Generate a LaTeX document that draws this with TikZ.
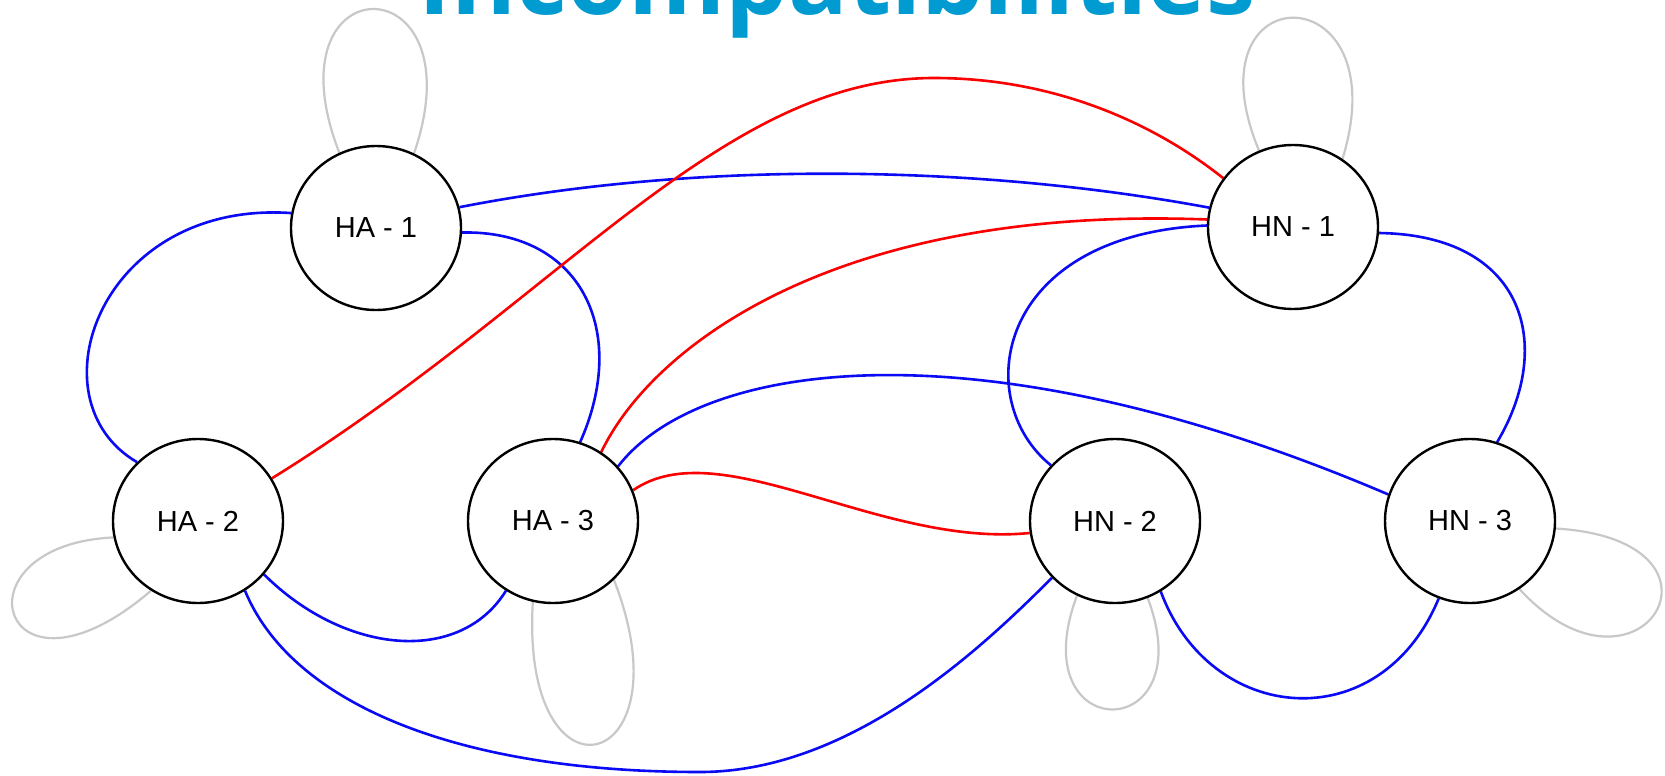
\documentclass[tikz,border=0pt]{standalone}
\usepackage{fontspec}
\setmainfont{Liberation Sans}
\newfontfamily\titlefont{Open Sans}
\usetikzlibrary{shapes.geometric,backgrounds}
\definecolor{edgeblue}{RGB}{10,10,245}
\definecolor{edgered}{RGB}{250,0,0}
\definecolor{loopgray}{RGB}{200,200,200}
\definecolor{titleblue}{RGB}{0,155,208}
\begin{document}
\begin{tikzpicture}[x=0.5pt,y=-0.5pt,
  vtx/.style={ellipse, draw=black, fill=white, line width=1.2pt, minimum width=85pt, minimum height=82pt, inner sep=0pt, font=\fontsize{14.5}{17}\selectfont},
  bl/.style={draw=edgeblue, line width=1.3pt},
  rd/.style={draw=edgered, line width=1.3pt},
  lp/.style={draw=loopgray, line width=1.1pt},
  ttl/.style={font=\titlefont\bfseries\fontsize{49.5}{55}\selectfont, text=titleblue, anchor=base, inner sep=0pt}]
\useasboundingbox (0,0) rectangle (1665,776);
\node[ttl] (title) at (837,14) {Incompatibilities};
\node[vtx] (HA1) at (376,228) {HA - 1};
\node[vtx] (HA2) at (198,521) {HA - 2};
\node[vtx] (HA3) at (553,521) {HA - 3};
\node[vtx] (HN1) at (1293,227) {HN - 1};
\node[vtx] (HN2) at (1115,521) {HN - 2};
\node[vtx] (HN3) at (1470,521) {HN - 3};
\begin{pgfonlayer}{background}
\fill[white] (0,0) rectangle (1665,776);
% self loops
\draw[lp] (HA1.116) .. controls (265,-39) and (480,-39) .. (HA1.63);
\draw[lp] (HA2.191) .. controls (-50,545) and (0,720) .. (HA2.236);
\draw[lp] (HA3.256) .. controls (520,815) and (690,775) .. (HA3.316);
\draw[lp] (HN1.114) .. controls (1185,-28) and (1400,-28) .. (HN1.54);
\draw[lp] (HN2.243) .. controls (1020,747) and (1204,747) .. (HN2.293);
\draw[lp] (HN3.-5) .. controls (1750,540) and (1640,720) .. (HN3.-54);
% blue edges
\draw[bl] (HA1.14) .. controls (700,160) and (980,165) .. (HN1.167);
\draw[bl] (HA1.-3) .. controls (580,230) and (630,330) .. (HA3.71);
\draw[bl] (HA1.170) .. controls (100,200) and (30,400) .. (HA2.136);
\draw[bl] (HA2.-39) .. controls (345,655) and (460,665) .. (HA3.236);
\draw[bl] (HA2.-56) .. controls (290,700) and (450,772) .. (700,772) .. controls (850,772) and (980,650) .. (HN2.222);
\draw[bl] (HA3.40) .. controls (700,360) and (980,320) .. (HN3.162);
\draw[bl] (HN2.139) .. controls (970,400) and (995,235) .. (HN1.179);
\draw[bl] (HN1.-4) .. controls (1525,235) and (1555,345) .. (HN3.71);
\draw[bl] (HN2.-57) .. controls (1210,725) and (1380,740) .. (HN3.248);
% red edges
\draw[rd] (HA2.30) .. controls (560,300) and (720,78) .. (934,78) .. controls (1050,78) and (1150,120) .. (HN1.145);
\draw[rd] (HA3.55) .. controls (650,350) and (830,205) .. (HN1.175);
\draw[rd] (HA3.21) .. controls (720,430) and (880,548) .. (HN2.188);
\end{pgfonlayer}
\end{tikzpicture}
\end{document}
